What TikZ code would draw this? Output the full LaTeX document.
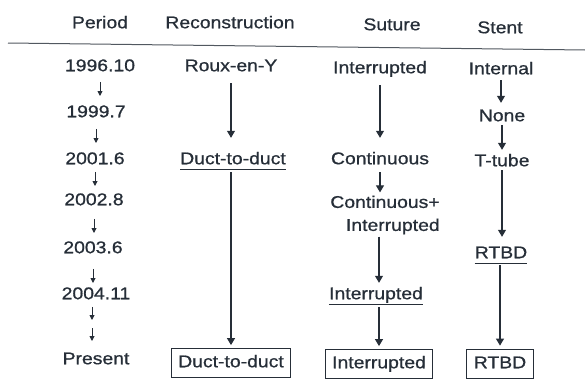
\documentclass[tikz,border=0pt]{standalone}
\usepackage{fontspec}
\setmainfont{Liberation Sans}[FakeStretch=1.14,FakeBold=0.8]
\usetikzlibrary{arrows.meta}
\definecolor{ink}{RGB}{38,46,56}
\tikzset{
  txt/.style={inner sep=0pt, text=ink, font=\fontsize{17}{23}\selectfont, text height=12pt, text depth=3.5pt},
  hdr/.style={txt},
  two/.style={inner sep=0pt, text=ink, font=\fontsize{17}{23}\selectfont, align=right},
  boxed/.style={txt, draw=ink, line width=0.8pt, inner xsep=7pt, inner ysep=0pt, minimum height=29pt},
  arr/.style={draw=ink, line width=1.1pt, -{Triangle[width=8pt,length=7pt]}},
  sarr/.style={draw=ink, line width=0.9pt, -{Triangle[width=5pt,length=5pt]}},
  uline/.style={draw=ink, line width=0.9pt}
}
\begin{document}
\begin{tikzpicture}[x=1pt,y=-1pt]
\useasboundingbox (0,0) rectangle (585,380);
% headers
\node[hdr] (h1) at (100,24) {Period};
\node[hdr] (h2) at (230,24) {Reconstruction};
\node[hdr] (h3) at (392,26) {Suture};
\node[hdr] (h4) at (500,29) {Stent};
\coordinate (l1) at (8,43);
\coordinate (l2) at (585,50);
\draw[draw=ink!80, line width=1pt] (l1) -- (l2);
% period
\node[txt] (p0) at (100,67) {1996.10};
\node[txt] (p1) at (96,113) {1999.7};
\node[txt] (p2) at (95,160) {2001.6};
\node[txt] (p3) at (94,201) {2002.8};
\node[txt] (p4) at (93,249) {2003.6};
\node[txt] (p5) at (96,295) {2004.11};
\coordinate (pm) at (92,324);
\node[txt] (p6) at (96,360) {Present};
\draw[sarr, shorten <=7pt, shorten >=17pt] (p0) -- (p0 |- p1);
\draw[sarr, shorten <=8pt, shorten >=17pt] (p1) -- (p1 |- p2);
\draw[sarr, shorten <=4pt, shorten >=15pt] (p2) -- (p2 |- p3);
\draw[sarr, shorten <=10pt, shorten >=16pt] (p3) -- (p3 |- p4);
\draw[sarr, shorten <=12pt, shorten >=12pt] (p4) -- (p4 |- p5);
\draw[sarr, shorten <=4pt, shorten >=4pt] (pm |- p5.south) -- (pm);
\draw[sarr, shorten <=4pt, shorten >=19pt] (pm) -- (pm |- p6);
% reconstruction
\node[txt] (r0) at (231,67) {Roux-en-Y};
\node[txt] (r1) at (233,160) {Duct-to-duct};
\node[boxed] (r2) at (231,363) {Duct-to-duct};
\draw[uline] ([yshift=-1.5pt]r1.south west) -- ([yshift=-1.5pt]r1.south east);
\draw[arr, shorten <=8.25pt, shorten >=14.25pt] (r0) -- (r0 |- r1.north);
\draw[arr, shorten <=4.25pt, shorten >=3pt] (r2 |- r1.south) -- (r2);
% suture
\node[txt] (s0) at (380,69) {Interrupted};
\node[txt] (s1) at (380,160) {Continuous};
\node[two] (s2) at (385,215) {Continuous+\\Interrupted};
\node[txt] (s3) at (376,295) {Interrupted};
\node[boxed] (s4) at (379,364) {Interrupted};
\draw[uline] ([yshift=-1.5pt]s3.south west) -- ([yshift=-1.5pt]s3.south east);
\draw[arr, shorten <=8.25pt, shorten >=14.25pt] (s0) -- (s1);
\draw[arr, shorten <=4.25pt, shorten >=3pt] (s1) -- (s1 |- s2.north);
\draw[arr, shorten <=2pt, shorten >=4.25pt] (s4 |- s2.south) -- (s4 |- s3.north);
\draw[arr, shorten <=4.25pt, shorten >=3pt] (s4 |- s3.south) -- (s4);
% stent
\node[txt] (t0) at (501,70) {Internal};
\node[txt] (t1) at (502,117) {None};
\node[txt] (t2) at (502,162) {T-tube};
\node[txt] (t3) at (501,254) {RTBD};
\node[boxed] (t4) at (500,364) {RTBD};
\draw[uline] ([yshift=-1.5pt]t3.south west) -- ([yshift=-1.5pt]t3.south east);
\draw[arr, shorten <=2.25pt, shorten >=6.25pt] (t0) -- (t0 |- t1.north);
\draw[arr, shorten <=0pt, shorten >=4.25pt] (t1) -- (t2);
\draw[arr, shorten <=0.25pt, shorten >=9.25pt] (t2) -- (t2 |- t3.north);
\draw[arr, shorten <=3.25pt, shorten >=3.5pt] (t4 |- t3.south) -- (t4);
\end{tikzpicture}
\end{document}
